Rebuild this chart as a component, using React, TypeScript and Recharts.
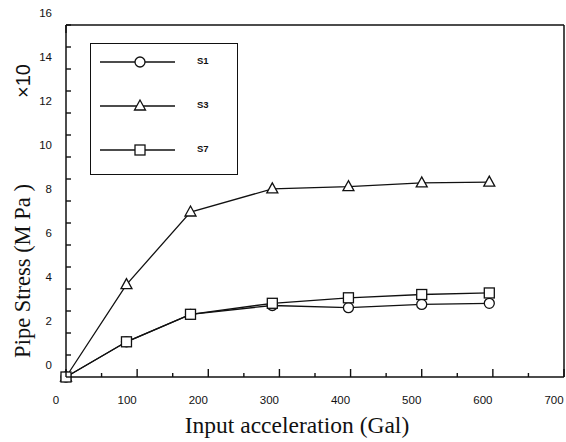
import React from 'react'
import { LineChart, Line, XAxis, YAxis, Legend, Label } from 'recharts'

// input acceleration (Gal) at each measured step
const accel = [0, 85, 175, 290, 397, 500, 595]
// pipe stress (x10 MPa)
const s1 = [0, 1.6, 2.85, 3.25, 3.15, 3.3, 3.35]
const s3 = [0, 4.2, 7.5, 8.55, 8.65, 8.82, 8.86]
const s7 = [0, 1.6, 2.85, 3.35, 3.6, 3.75, 3.82]

const seriesNames = ['S1', 'S3', 'S7']
const seriesShapes = ['circle', 'triangle', 'square']

const xTicks = [0, 50, 100, 150, 200, 250, 300, 350, 400, 450, 500, 550, 600, 650, 700]
const yTicks = [0, 1, 2, 3, 4, 5, 6, 7, 8, 9, 10, 11, 12, 13, 14, 15, 16]

const rows = accel.map((a, i) => ({ accel: a, S1: s1[i], S3: s3[i], S7: s7[i] }))

const INK = '#111'
const TICK_FONT = '"Liberation Sans", Arial, sans-serif'
const SERIF = '"Liberation Serif", "Times New Roman", serif'

const Marker = ({ shape, cx, cy }: { shape: string; cx: number; cy: number }) => {
  if (shape === 'circle')
    return <circle cx={cx} cy={cy} r={5} fill="#fff" stroke={INK} strokeWidth={1.3} />
  if (shape === 'square')
    return <rect x={cx - 5} y={cy - 5} width={10} height={10} fill="#fff" stroke={INK} strokeWidth={1.3} />
  return (
    <polygon
      points={`${cx},${cy - 6} ${cx - 5.5},${cy + 4} ${cx + 5.5},${cy + 4}`}
      fill="#fff"
      stroke={INK}
      strokeWidth={1.3}
    />
  )
}

// tick marks point into the plot, labels sit off to one side as in the scan
const BottomTick = ({ x, y, payload }: any) => {
  const major = payload.value % 100 === 0
  return (
    <g>
      <path d={`M${x},${y}V${y - (major ? 8 : 4)}`} stroke={INK} strokeWidth={1.4} fill="none" />
      {major && (
        <text x={x - 10} y={y + 27} textAnchor="middle" fontSize={11.5} fontFamily={TICK_FONT} fill={INK}>
          {payload.value}
        </text>
      )}
    </g>
  )
}

const TopTick = ({ x, y, payload }: any) => {
  const major = payload.value % 100 === 0
  return <path d={`M${x},${y}V${y + (major ? 8 : 4)}`} stroke={INK} strokeWidth={1.4} fill="none" />
}

const LeftTick = ({ x, y, payload }: any) => (
  <g>
    <path d={`M${x},${y}H${x + 5}`} stroke={INK} strokeWidth={1.4} fill="none" />
    {payload.value % 2 === 0 && (
      <text x={x - 14} y={y - 8} textAnchor="end" fontSize={11.5} fontFamily={TICK_FONT} fill={INK}>
        {payload.value}
      </text>
    )}
  </g>
)

const RightTick = ({ x, y }: any) => (
  <path d={`M${x},${y}H${x - 5}`} stroke={INK} strokeWidth={1.4} fill="none" />
)

const LegendBox = ({ payload }: any) => (
  <div
    style={{
      position: 'relative',
      width: 146,
      height: 130,
      border: `1.5px solid ${INK}`,
      background: '#fff',
    }}
  >
    {(payload || []).map((item: any, i: number) => {
      const idx = seriesNames.indexOf(item.value)
      return (
        <div key={item.value} style={{ position: 'absolute', left: 0, top: 8 + i * 44, height: 20, width: 146 }}>
          <svg width={90} height={20} style={{ position: 'absolute', left: 0, top: 0 }}>
            <line x1={9} y1={10} x2={84} y2={10} stroke={INK} strokeWidth={1.3} />
            <Marker shape={seriesShapes[idx]} cx={49} cy={10} />
          </svg>
          <span
            style={{
              position: 'absolute',
              left: 106,
              top: 3,
              fontSize: 9.5,
              fontWeight: 'bold',
              fontFamily: TICK_FONT,
              color: INK,
            }}
          >
            {item.value}
          </span>
        </div>
      )
    })}
  </div>
)

export default function App() {
  return (
    <div style={{ position: 'absolute', left: 0, top: 0, background: '#fff' }}>
      <LineChart width={566} height={442} data={rows} margin={{ top: 24, right: 1, bottom: 35, left: 20 }}>
        <XAxis
          dataKey="accel"
          type="number"
          domain={[0, 700]}
          ticks={xTicks}
          interval={0}
          tickLine={false}
          tickSize={0}
          tickMargin={0}
          height={30}
          axisLine={{ stroke: INK, strokeWidth: 1.5 }}
          tick={<BottomTick />}
        >
          <Label
            content={({ viewBox }: any) => (
              <text
                x={viewBox.x + viewBox.width / 2 - 18}
                y={viewBox.y + 56}
                textAnchor="middle"
                fontSize={23.5}
                fontFamily={SERIF}
                fill={INK}
              >
                Input acceleration (Gal)
              </text>
            )}
          />
        </XAxis>
        <XAxis
          xAxisId="top"
          orientation="top"
          type="number"
          domain={[0, 700]}
          ticks={xTicks}
          interval={0}
          tickLine={false}
          tickSize={0}
          tickMargin={0}
          height={1}
          axisLine={{ stroke: INK, strokeWidth: 1.5 }}
          tick={<TopTick />}
        />
        <YAxis
          type="number"
          domain={[0, 16]}
          ticks={yTicks}
          interval={0}
          tickLine={false}
          tickSize={0}
          tickMargin={0}
          width={46}
          axisLine={{ stroke: INK, strokeWidth: 1.5 }}
          tick={<LeftTick />}
        >
          <Label
            content={({ viewBox }: any) => {
              const cx = viewBox.x + 2
              const cy = viewBox.y + viewBox.height / 2 + 70
              const mx = viewBox.x + 3
              const my = viewBox.y + 56
              return (
                <g>
                  <text
                    x={cx}
                    y={cy}
                    transform={`rotate(-90 ${cx} ${cy})`}
                    textAnchor="middle"
                    dominantBaseline="central"
                    fontSize={22.5}
                    fontFamily={SERIF}
                    fill={INK}
                  >
                    Pipe Stress (M Pa )
                  </text>
                  <text
                    x={mx}
                    y={my}
                    transform={`rotate(-90 ${mx} ${my})`}
                    textAnchor="middle"
                    dominantBaseline="central"
                    fontSize={20}
                    fontFamily={TICK_FONT}
                    fill={INK}
                  >
                    ×10
                  </text>
                </g>
              )
            }}
          />
        </YAxis>
        <YAxis
          yAxisId="right"
          orientation="right"
          type="number"
          domain={[0, 16]}
          ticks={yTicks}
          interval={0}
          tickLine={false}
          tickSize={0}
          tickMargin={0}
          width={1}
          axisLine={{ stroke: INK, strokeWidth: 1.5 }}
          tick={<RightTick />}
        />
        <Legend
          layout="vertical"
          align="center"
          verticalAlign="middle"
          content={<LegendBox />}
          wrapperStyle={{ position: 'absolute', left: 90, top: 43, width: 149, height: 133 }}
        />
        {seriesNames.map((name, i) => (
          <Line
            key={name}
            dataKey={name}
            name={name}
            type="linear"
            stroke={INK}
            strokeWidth={1.3}
            isAnimationActive={false}
            dot={(p: any) => <Marker key={`${name}-${p.index}`} shape={seriesShapes[i]} cx={p.cx} cy={p.cy} />}
            activeDot={false}
          />
        ))}
      </LineChart>
    </div>
  )
}
